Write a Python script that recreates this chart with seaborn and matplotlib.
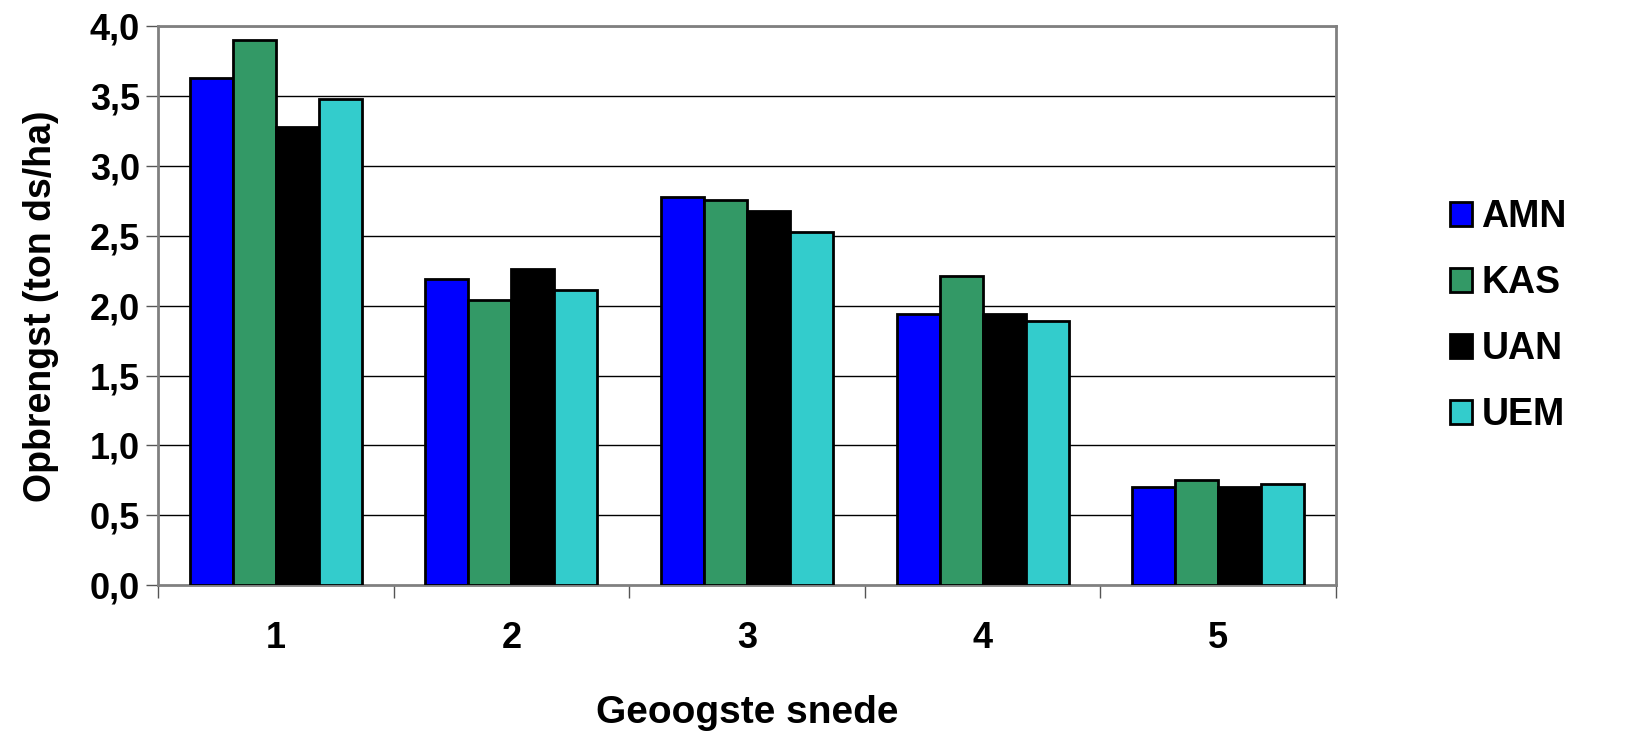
import matplotlib
matplotlib.use("Agg")
import matplotlib.pyplot as plt
import seaborn as sns
import pandas as pd
import numpy as np

categories = ["1", "2", "3", "4", "5"]
series_names = ["AMN", "KAS", "UAN", "UEM"]
amn = [3.63, 2.19, 2.78, 1.94, 0.70]
kas = [3.90, 2.04, 2.76, 2.21, 0.75]
uan = [3.28, 2.26, 2.68, 1.94, 0.70]
uem = [3.48, 2.11, 2.53, 1.89, 0.72]
colors = ["#0000FF", "#339966", "#000000", "#33CCCC"]
y_ticks = [0.0, 0.5, 1.0, 1.5, 2.0, 2.5, 3.0, 3.5, 4.0]

rows = []
for name, vals in zip(series_names, [amn, kas, uan, uem]):
    for c, v in zip(categories, vals):
        rows.append({"snede": c, "serie": name, "waarde": v})
df = pd.DataFrame(rows)

sns.set_theme(style="white")
plt.rcParams["font.family"] = ["Liberation Sans", "DejaVu Sans"]
plt.rcParams["font.weight"] = "bold"
plt.rcParams["text.color"] = "black"
plt.rcParams["axes.labelcolor"] = "black"
plt.rcParams["xtick.color"] = "black"
plt.rcParams["ytick.color"] = "black"

fig = plt.figure(figsize=(16.52, 7.32), dpi=100)
ax = fig.add_axes([0.0956, 0.2008, 0.8087 - 0.0956, 0.9638 - 0.2008])

for y in y_ticks[1:]:
    ax.axhline(y, color="black", lw=1.0, zorder=0)

sns.barplot(data=df, x="snede", y="waarde", hue="serie", order=categories,
            hue_order=series_names, palette=colors, width=0.73,
            edgecolor="black", linewidth=2.0, saturation=1, ax=ax, zorder=3)

ax.set_ylim(0, 4.0)
ax.set_xlim(-0.5, 4.5)
ax.set_yticks(y_ticks)
ax.set_yticklabels([f"{v:.1f}".replace(".", ",") for v in y_ticks],
                   fontsize=26, fontweight="bold", color="black")
ax.set_xticks(range(len(categories)))
ax.set_xticklabels(categories, fontsize=26, fontweight="bold", color="black")
ax.set_xticks(np.arange(-0.5, 5.0, 1.0), minor=True)
ax.tick_params(axis="x", which="major", length=0, pad=26)
ax.tick_params(axis="x", which="minor", length=9, width=1, color="#555555", direction="out", bottom=True)
ax.tick_params(axis="y", which="major", length=9, width=1, color="#555555", direction="out", left=True, pad=4)

ax.set_ylabel("Opbrengst (ton ds/ha)", fontsize=27, fontweight="bold", labelpad=22, color="black")
ax.set_xlabel("Geoogste snede", fontsize=28, fontweight="bold", labelpad=28, color="black")

for side in ["left", "right", "top", "bottom"]:
    ax.spines[side].set_visible(True)
    ax.spines[side].set_color("#808080")
    ax.spines[side].set_linewidth(2.0)

handles, labels = ax.get_legend_handles_labels()
ax.get_legend().remove()
leg = fig.legend(handles, labels, loc="center left", bbox_to_anchor=(0.857, 0.568),
                 frameon=False, prop={"size": 27, "weight": "bold"},
                 handlelength=0.6, handleheight=0.6, handletextpad=0.25,
                 labelspacing=0.8)
for h in leg.legend_handles:
    h.set_edgecolor("black")
    h.set_linewidth(2.0)
for t in leg.get_texts():
    t.set_color("black")

fig.savefig("out.png", dpi=100, facecolor="white")
